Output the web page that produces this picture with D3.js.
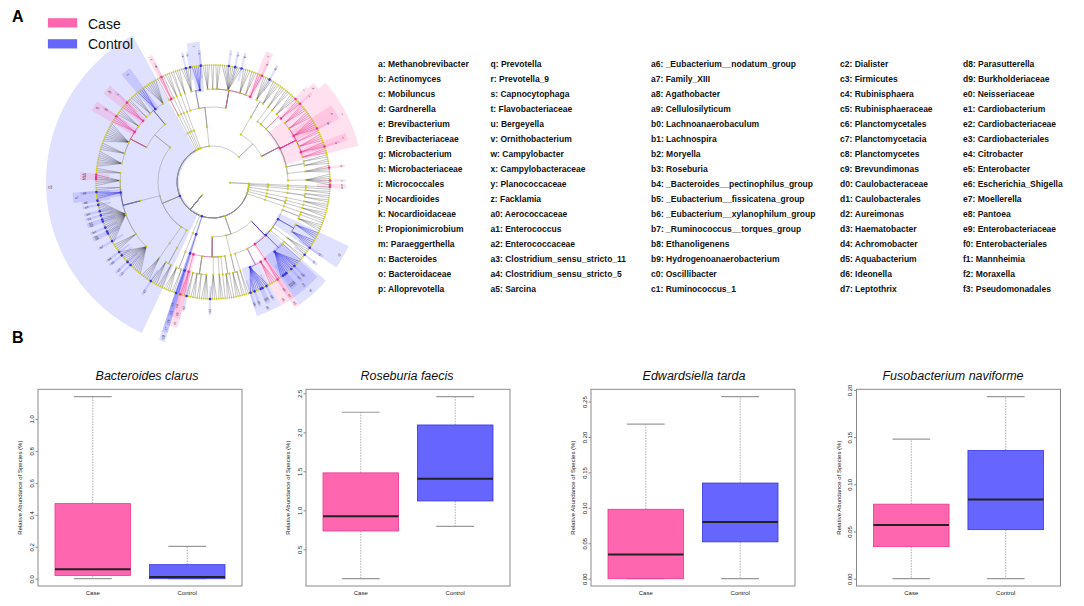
<!DOCTYPE html>
<html>
<head>
<meta charset="utf-8">
<script src="https://d3js.org/d3.v7.min.js"></script>
<style>
  body { margin: 0; background: #fff; }
  svg { display: block; }
  text { font-family: "Liberation Sans", Arial, sans-serif; }
</style>
</head>
<body>
<svg id="fig" width="1084" height="606"></svg>
<script>
// ---------------- data ----------------
const groups = ["Case", "Control"]

// cladogram: phylum > class > order > family > genera
// a leading plain string is the code of an enriched clade,
// "*code" is an enriched genus, a number n stands for n other genera
const euryarchaeota = [[[["*a"]]]]
const actinobacteria = [
  [
    [["*b", 1, "*c", 3]],
    [[2, "*d", 1]],
    [[3], [2]],
    ["i", [3], ["f", "*e", 2], [4], [2], ["h", "*g", 5], [4], [4]],
    [["k", "*j", 2], ["*l", 3]],
    [[3]],
    [[3]]
  ],
  [
    [[4], [1, "*m", 3]]
  ]
]
const bacteroidetes = [
  [
    [["o", "*n", 2], [3], [4], ["*p", 2, "*q", 2, "*r", 3], [3], [2], [4]],
    [["t", "*s", 4], ["*u", 1, "*v", 2]],
    [[3]]
  ]
]
const chloroflexi = [[[[2]]]]
const cyanobacteria = [[[[3]]]]
const deinococcus = [[[[1]]]]
const epsilonbacteraeota = [[[["x", "*w", 1], [1]]]]
const firmicutes = ["c3",
  [
    [[7], ["y", 4], [4], [2]],
    [["a0", "*z", 3], [4], ["a2", "*a1", 3], [10], [4], [8]]
  ],
  [
    [
      [3],
      ["*a3", "*a4", "*a5", 3],
      [2],
      ["a7", "*a6", 3],
      ["*a8", 1, "*a9", 2, "*b0", 1, "*b1", 1, "*b2", "*b3", 2, "*b4", 1, "*b5", "*b6", 3, "*b7", 1],
      [4],
      ["*b8", 1, "*b9", 3, "*c0", 1, "*c1", 6]
    ]
  ],
  [[[5]]],
  [[["*c2", 3], [3]]]
]
const fusobacteria = [[[[4], [2]]]]
const planctomycetes = ["c8", ["c7", ["c6", ["c5", "*c4", 1]]]]
const proteobacteria = [
  [
    ["d1", ["d0", "*c9", 2]],
    [["*d2", 1], [3], [2], [4]],
    [["*d3", 3]],
    [[3]],
    [[1]],
    [[3], [1]]
  ],
  [[[3], [2]]],
  [
    [[2]],
    [["d9", "*d4", 1, "*d5", 2, "*d6", "*d7", 1, "*d8", 1], ["e0", 4]],
    ["e3", ["e2", "*e1", 1]],
    ["f0", ["e9", 1, "*e4", "*e5", "*e6", 2, "*e7", 1, "*e8", 3], [1]],
    [[2]],
    [["*f1", 3]],
    ["f3", ["*f2", 4], [4]],
    [[4], [1]]
  ]
]
const saccharibacteria = [[[[2]]]]
const spirochaetes = [[[[3]], [[1]]]]
const synergistetes = [[[[3]]]]
const tenericutes = [[[[2], [2]]]]
const thermotogae = [[[[2]]]]
const verrucomicrobia = [[[[1]]]]

const caseCodes = ["a", "b", "c", "d", "e", "f", "g", "h", "i", "j", "k", "l", "n", "o", "w", "x",
  "z", "a0", "a1", "a2", "a3", "a4", "a5", "c9", "d0", "d1", "e0", "e1", "e2", "e3"]

const labelNames = [
  "a: Methanobrevibacter", "b: Actinomyces", "c: Mobiluncus", "d: Gardnerella", "e: Brevibacterium",
  "f: Brevibacteriaceae", "g: Microbacterium", "h: Microbacteriaceae", "i: Micrococcales", "j: Nocardioides",
  "k: Nocardioidaceae", "l: Propionimicrobium", "m: Paraeggerthella", "n: Bacteroides", "o: Bacteroidaceae",
  "p: Alloprevotella", "q: Prevotella", "r: Prevotella_9", "s: Capnocytophaga", "t: Flavobacteriaceae",
  "u: Bergeyella", "v: Ornithobacterium", "w: Campylobacter", "x: Campylobacteraceae", "y: Planococcaceae",
  "z: Facklamia", "a0: Aerococcaceae", "a1: Enterococcus", "a2: Enterococcaceae", "a3: Clostridium_sensu_stricto_11",
  "a4: Clostridium_sensu_stricto_5", "a5: Sarcina", "a6: _Eubacterium__nodatum_group", "a7: Family_XIII", "a8: Agathobacter",
  "a9: Cellulosilyticum", "b0: Lachnoanaerobaculum", "b1: Lachnospira", "b2: Moryella", "b3: Roseburia",
  "b4: _Bacteroides__pectinophilus_group", "b5: _Eubacterium__fissicatena_group", "b6: _Eubacterium__xylanophilum_group", "b7: _Ruminococcus__torques_group", "b8: Ethanoligenens",
  "b9: Hydrogenoanaerobacterium", "c0: Oscillibacter", "c1: Ruminococcus_1", "c2: Dialister", "c3: Firmicutes",
  "c4: Rubinisphaera", "c5: Rubinisphaeraceae", "c6: Planctomycetales", "c7: Planctomycetacia", "c8: Planctomycetes",
  "c9: Brevundimonas", "d0: Caulobacteraceae", "d1: Caulobacterales", "d2: Aureimonas", "d3: Haematobacter",
  "d4: Achromobacter", "d5: Aquabacterium", "d6: Ideonella", "d7: Leptothrix", "d8: Parasutterella",
  "d9: Burkholderiaceae", "e0: Neisseriaceae", "e1: Cardiobacterium", "e2: Cardiobacteriaceae", "e3: Cardiobacteriales",
  "e4: Citrobacter", "e5: Enterobacter", "e6: Escherichia_Shigella", "e7: Moellerella", "e8: Pantoea",
  "e9: Enterobacteriaceae", "f0: Enterobacteriales", "f1: Mannheimia", "f2: Moraxella", "f3: Pseudomonadales"
]

// panel B boxplots: [lower whisker, Q1, median, Q3, upper whisker]
const species = ["Bacteroides clarus", "Roseburia faecis", "Edwardsiella tarda", "Fusobacterium naviforme"]
const caseStats = [
  [0, 0.02, 0.06, 0.47, 1.14],
  [0.123, 0.735, 0.924, 1.48, 2.257],
  [0, 0, 0.034, 0.098, 0.218],
  [0, 0.034, 0.057, 0.079, 0.148]
]
const controlStats = [
  [0, 0, 0.01, 0.088, 0.203],
  [0.795, 1.12, 1.404, 2.094, 2.458],
  [0, 0.052, 0.08, 0.135, 0.257],
  [0, 0.052, 0.084, 0.136, 0.193]
]
const yTicks = [
  [0, 0.2, 0.4, 0.6, 0.8, 1.0],
  [0.5, 1.0, 1.5, 2.0, 2.5],
  [0, 0.05, 0.1, 0.15, 0.2, 0.25],
  [0, 0.05, 0.1, 0.15, 0.2]
]
const yTickFormats = [".1f", ".1f", ".2f", ".2f"]

// ---------------- styles ----------------
const fill = { Case: "#ff66b0", Control: "#6666ff" }
const dark = { Case: "#e8388f", Control: "#3535e0" }
const groupOf = code => caseCodes.includes(code) ? "Case" : "Control"

const svg = d3.select("#fig")

// panel letters
svg.append("text").attr("x", 12).attr("y", 22).attr("font-size", 16).attr("font-weight", "bold").text("A")
svg.append("text").attr("x", 12).attr("y", 343).attr("font-size", 16).attr("font-weight", "bold").text("B")

// ---------------- cladogram ----------------
const isGenusCode = v => typeof v === "string" && v[0] === "*"
function build(item, depth) {
  if (depth === 5) {
    let code = null, kids = item
    if (typeof item[0] === "string" && !isGenusCode(item[0])) { code = item[0]; kids = item.slice(1) }
    const genera = []
    kids.forEach(k => {
      if (isGenusCode(k)) genera.push({ code: k.slice(1) })
      else d3.range(k).forEach(() => genera.push({}))
    })
    return { code, children: genera }
  }
  let code = null, kids = item
  if (typeof item[0] === "string") { code = item[0]; kids = item.slice(1) }
  return { code, children: kids.map(k => build(k, depth + 1)) }
}

const bacteriaPhyla = [actinobacteria, bacteroidetes, chloroflexi, cyanobacteria, deinococcus,
  epsilonbacteraeota, firmicutes, fusobacteria, planctomycetes, proteobacteria,
  saccharibacteria, spirochaetes, synergistetes, tenericutes, thermotogae, verrucomicrobia]

const taxa = { children: [
  { children: [build(euryarchaeota, 2)] },
  { children: bacteriaPhyla.map(p => build(p, 2)) }
]}

const root = d3.hierarchy(taxa)
d3.cluster().size([360, 1]).separation(() => 1)(root)
const nLeaves = root.leaves().length
const halfStep = 180 / nLeaves

const angle = d3.scaleLinear().domain([0, 360]).range([93, 93 - 360])
const radius = d3.scaleLinear().domain([0, 1, 2, 3, 4, 5, 6]).range([0, 17, 36, 55, 75, 93, 117])
const outerR = { 2: 167, 3: 158, 4: 150, 5: 141, 6: 133 }
const innerR = d => d.depth === 6 ? radius(6) - 13 : radius(d.depth) - 2
const pt = (a, r) => [r * Math.sin(a * Math.PI / 180), -r * Math.cos(a * Math.PI / 180)]

const clad = svg.append("g").attr("transform", "translate(213,182)")

// shaded sectors of enriched clades
const marked = root.descendants().filter(d => d.data.code).sort((a, b) => a.depth - b.depth)
const sectorArc = d3.arc()
marked.forEach(d => {
  const lv = d.leaves()
  const aMin = angle(lv[lv.length - 1].x) - halfStep
  const aMax = angle(lv[0].x) + halfStep
  d.aMid = (aMin + aMax) / 2
  clad.append("path")
    .attr("d", sectorArc({
      innerRadius: innerR(d), outerRadius: outerR[d.depth],
      startAngle: aMin * Math.PI / 180, endAngle: aMax * Math.PI / 180
    }))
    .attr("fill", fill[groupOf(d.data.code)])
    .attr("fill-opacity", 0.2)
})

// branches: coloured inside enriched classes, orders and families
const hlOf = d => d.ancestors().find(a => a.data.code && a.depth >= 3 && a.depth <= 5)
function linkPath(d) {
  const p = d.parent
  const ap = angle(p.x), ac = angle(d.x), rp = radius(p.depth), rc = radius(d.depth)
  const [x0, y0] = pt(ap, rp)
  const [x2, y2] = pt(ac, rc)
  if (p.depth >= 5) return `M${x0},${y0}L${x2},${y2}`
  const [x1, y1] = pt(ap, rc)
  const delta = ac - ap
  return `M${x0},${y0}L${x1},${y1}A${rc},${rc} 0 ${Math.abs(delta) > 180 ? 1 : 0} ${delta > 0 ? 1 : 0} ${x2},${y2}`
}
const links = root.descendants().filter(d => d.depth >= 2)
clad.append("g").selectAll("path")
  .data(links.filter(d => !hlOf(d)))
  .join("path")
  .attr("d", linkPath)
  .attr("fill", "none")
  .attr("stroke", d => d.depth === 6 ? "#3c3c3c" : "#8a8a8a")
  .attr("stroke-width", d => d.depth === 6 ? 0.3 : 0.45)
clad.append("g").selectAll("path")
  .data(links.filter(d => hlOf(d)))
  .join("path")
  .attr("d", linkPath)
  .attr("fill", "none")
  .attr("stroke", d => dark[groupOf(hlOf(d).data.code)])
  .attr("stroke-width", 0.45)

// kingdom stems
root.children.forEach(k => {
  const [x0, y0] = pt(angle(k.x), radius(1))
  const [x1, y1] = pt(angle(k.x), radius(2))
  clad.append("line").attr("x1", x0).attr("y1", y0).attr("x2", x1).attr("y2", y1)
    .attr("stroke", "#8a8a8a").attr("stroke-width", 0.45)
})

// nodes
clad.append("g").selectAll("circle")
  .data(root.descendants().filter(d => d.depth >= 1).sort((a, b) => (a.data.code ? 1 : 0) - (b.data.code ? 1 : 0)))
  .join("circle")
  .attr("transform", d => `translate(${pt(angle(d.x), radius(d.depth))})`)
  .attr("r", d => d.data.code ? 1.3 : (d.depth === 6 ? 0.75 : 0.95))
  .attr("fill", d => d.data.code ? dark[groupOf(d.data.code)] : "#d9d900")
  .attr("stroke", d => d.data.code ? "none" : "#a0a030")
  .attr("stroke-width", 0.2)

// clade letters
clad.append("g").selectAll("text")
  .data(marked)
  .join("text")
  .attr("transform", d => {
    const [x, y] = pt(d.aMid, outerR[d.depth] - 4)
    const a = ((d.aMid % 360) + 360) % 360
    return `translate(${x},${y}) rotate(${a < 180 ? a - 90 : a + 90})`
  })
  .attr("text-anchor", "middle")
  .attr("dy", "0.35em")
  .attr("font-size", d => d.depth === 2 ? 4.2 : 3.2)
  .attr("fill", "#333")
  .text(d => d.data.code)

// legend
groups.forEach((g, i) => {
  svg.append("rect").attr("x", 48).attr("y", 18.3 + i * 21).attr("width", 29).attr("height", 9)
    .attr("fill", fill[g]).attr("stroke", dark[g]).attr("stroke-opacity", 0.3).attr("stroke-width", 0.5)
  svg.append("text").attr("x", 88).attr("y", 28.5 + i * 20.7)
    .attr("font-family", "DejaVu Sans").attr("font-size", 14).attr("fill", "#111").text(g)
})

// label list
const colX = [378, 490.5, 651, 840, 963]
const rowY = d3.scalePoint().domain(d3.range(16)).range([67, 292])
svg.append("g").selectAll("text")
  .data(labelNames)
  .join("text")
  .attr("x", (d, i) => colX[Math.floor(i / 16)])
  .attr("y", (d, i) => rowY(i % 16))
  .attr("font-size", 8.5)
  .attr("font-weight", "bold")
  .attr("fill", "#111")
  .text(d => d)

// ---------------- boxplots ----------------
const plotTop = 389.3, plotBottom = 586, plotW = 204
const panelLeft = [38, 306, 591, 856.5]
const titleX = [147, 407, 694, 953]

species.forEach((sp, i) => {
  const L = panelLeft[i]
  const stats = [caseStats[i], controlStats[i]]
  const lo = d3.min(stats, s => s[0]), hi = d3.max(stats, s => s[4]), pad = (hi - lo) * 0.04
  const y = d3.scaleLinear().domain([lo - pad, hi + pad]).range([plotBottom, plotTop])
  const x = d3.scaleLinear().domain([0.42, 2.58]).range([L, L + plotW])
  const g = svg.append("g")

  g.append("text").attr("x", titleX[i]).attr("y", 379.5).attr("text-anchor", "middle")
    .attr("font-size", 12.5).attr("font-style", "italic").attr("fill", "#111").text(sp)

  stats.forEach((s, k) => {
    const grp = groups[k], cxp = x(k + 1)
    const whisk = [[s[3], s[4]], [s[1], s[0]]]
    whisk.forEach(([a, b]) => {
      g.append("line").attr("x1", cxp).attr("x2", cxp).attr("y1", y(a)).attr("y2", y(b))
        .attr("stroke", "#999").attr("stroke-width", 0.8).attr("stroke-dasharray", "1.5,1.2")
      g.append("line").attr("x1", x(k + 0.8)).attr("x2", x(k + 1.2)).attr("y1", y(b)).attr("y2", y(b))
        .attr("stroke", "#999").attr("stroke-width", 1.2)
    })
    g.append("rect").attr("x", x(k + 0.6)).attr("width", x(k + 1.4) - x(k + 0.6))
      .attr("y", y(s[3])).attr("height", Math.max(0.5, y(s[1]) - y(s[3])))
      .attr("fill", fill[grp]).attr("stroke", dark[grp]).attr("stroke-width", 0.8)
    g.append("line").attr("x1", x(k + 0.6)).attr("x2", x(k + 1.4)).attr("y1", y(s[2])).attr("y2", y(s[2]))
      .attr("stroke", "#222").attr("stroke-width", 2)
    g.append("text").attr("x", cxp).attr("y", 594.5).attr("text-anchor", "middle")
      .attr("font-size", 6).attr("fill", "#222").text(grp)
  })

  g.append("rect").attr("x", L).attr("y", plotTop).attr("width", plotW).attr("height", plotBottom - plotTop)
    .attr("fill", "none").attr("stroke", "#8a8a8a").attr("stroke-width", 1)

  const ax = g.append("g").attr("transform", `translate(${L},0)`)
    .call(d3.axisLeft(y).tickValues(yTicks[i]).tickFormat(d3.format(yTickFormats[i])).tickSize(2.5))
  ax.select(".domain").remove()
  ax.selectAll(".tick line").attr("stroke", "#8a8a8a")
  ax.selectAll(".tick text")
    .attr("transform", "rotate(-90)")
    .attr("x", 0).attr("y", -4.5).attr("dy", 0)
    .attr("text-anchor", "middle")
    .attr("font-size", 6).attr("fill", "#222")
    .attr("font-family", "Liberation Sans, Arial, sans-serif")

  g.append("text")
    .attr("transform", `translate(${L - 16},${(plotTop + plotBottom) / 2}) rotate(-90)`)
    .attr("text-anchor", "middle").attr("font-size", 6).attr("fill", "#222")
    .text("Relative Abundance of Species (%)")
})
</script>
</body>
</html>
